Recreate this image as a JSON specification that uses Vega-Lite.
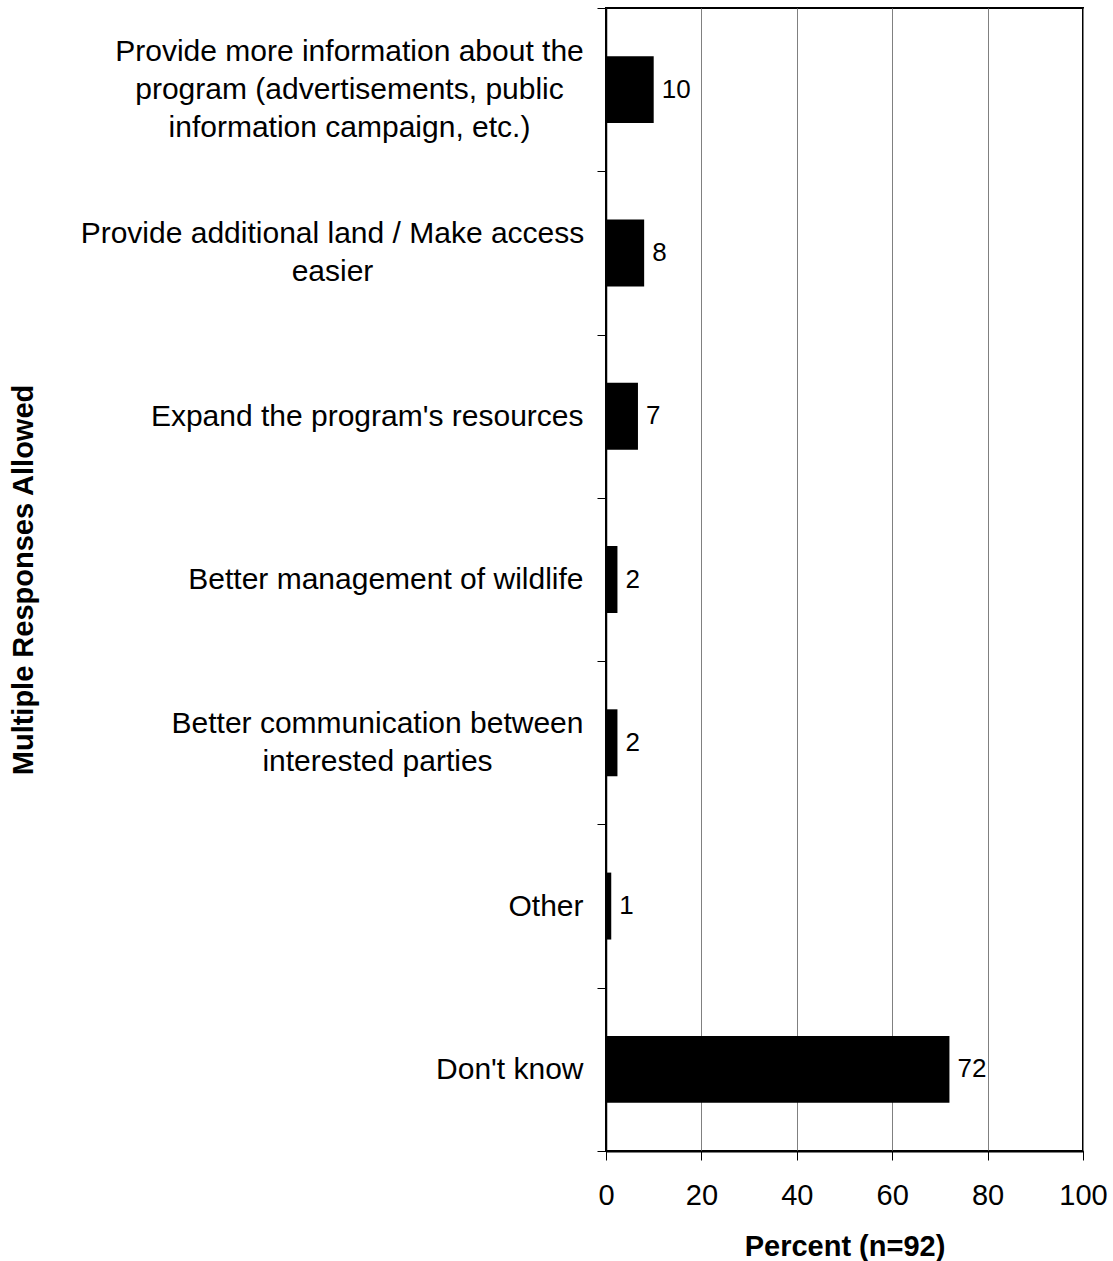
{
  "$schema": "https://vega.github.io/schema/vega-lite/v6.json",
  "width": 477,
  "height": 1143,
  "autosize": {"type": "none"},
  "padding": {"left": 606, "top": 8, "right": 30, "bottom": 110},
  "background": "white",
  "config": {
    "font": "Liberation Sans",
    "view": {"stroke": "black", "strokeWidth": 2}
  },
  "data": {
    "values": [
      {"response": "Provide more information about the program (advertisements, public information campaign, etc.)", "percent": 10, "label": "10"},
      {"response": "Provide additional land / Make access easier", "percent": 8, "label": "8"},
      {"response": "Expand the program's resources", "percent": 6.7, "label": "7"},
      {"response": "Better management of wildlife", "percent": 2.4, "label": "2"},
      {"response": "Better communication between interested parties", "percent": 2.4, "label": "2"},
      {"response": "Other", "percent": 1.1, "label": "1"},
      {"response": "Don't know", "percent": 72, "label": "72"}
    ]
  },
  "encoding": {
    "y": {
      "field": "response",
      "type": "nominal",
      "sort": null,
      "scale": {"paddingInner": 0, "paddingOuter": 0},
      "axis": {
        "title": "Multiple Responses Allowed",
        "titleFontSize": 29,
        "titleFontWeight": "bold",
        "titleColor": "black",
        "titleX": -574,
        "titleBaseline": "alphabetic",
        "labelExpr": "datum.value == 'Provide more information about the program (advertisements, public information campaign, etc.)' ? ['Provide more information about the', 'program (advertisements, public', 'information campaign, etc.)'] : datum.value == 'Provide additional land / Make access easier' ? ['Provide additional land / Make access', 'easier'] : datum.value == 'Better communication between interested parties' ? ['Better communication between', 'interested parties'] : datum.label",
        "labelOffset": {
          "condition": [
            {"test": "datum.value == 'Provide more information about the program (advertisements, public information campaign, etc.)'", "value": -38},
            {"test": "datum.value == 'Provide additional land / Make access easier' || datum.value == 'Better communication between interested parties'", "value": -19}
          ],
          "value": 0
        },
        "labelAlign": {
          "condition": {"test": "datum.value == 'Provide more information about the program (advertisements, public information campaign, etc.)' || datum.value == 'Provide additional land / Make access easier' || datum.value == 'Better communication between interested parties'", "value": "center"},
          "value": "right"
        },
        "labelPadding": {
          "condition": [
            {"test": "datum.value == 'Provide more information about the program (advertisements, public information campaign, etc.)'", "value": 248},
            {"test": "datum.value == 'Provide additional land / Make access easier'", "value": 265},
            {"test": "datum.value == 'Better communication between interested parties'", "value": 220}
          ],
          "value": 14
        },
        "labelFontSize": 30,
        "labelColor": "black",
        "labelLineHeight": 38,
        "labelLimit": 0,
        "tickBand": "extent",
        "tickSize": 9,
        "tickColor": "black",
        "tickWidth": 1,
        "domainColor": "black",
        "domainWidth": 1.5,
        "grid": false
      }
    },
    "x": {
      "field": "percent",
      "type": "quantitative",
      "scale": {"domain": [0, 100], "nice": false},
      "axis": {
        "title": "Percent (n=92)",
        "titleFontSize": 29,
        "titleFontWeight": "bold",
        "titleColor": "black",
        "titleY": 81,
        "titleBaseline": "top",
        "values": [0, 20, 40, 60, 80, 100],
        "labelFontSize": 29,
        "labelColor": "black",
        "labelPadding": 21,
        "labelFlush": false,
        "tickSize": 9,
        "tickColor": "black",
        "tickWidth": 1,
        "domainColor": "black",
        "domainWidth": 2,
        "grid": true,
        "gridColor": "#808080",
        "gridWidth": 1
      }
    }
  },
  "layer": [
    {"mark": {"type": "bar", "color": "black", "height": {"band": 0.41}}},
    {
      "mark": {"type": "text", "align": "left", "baseline": "middle", "dx": 8, "fontSize": 26, "color": "black"},
      "encoding": {"text": {"field": "label"}}
    }
  ]
}
